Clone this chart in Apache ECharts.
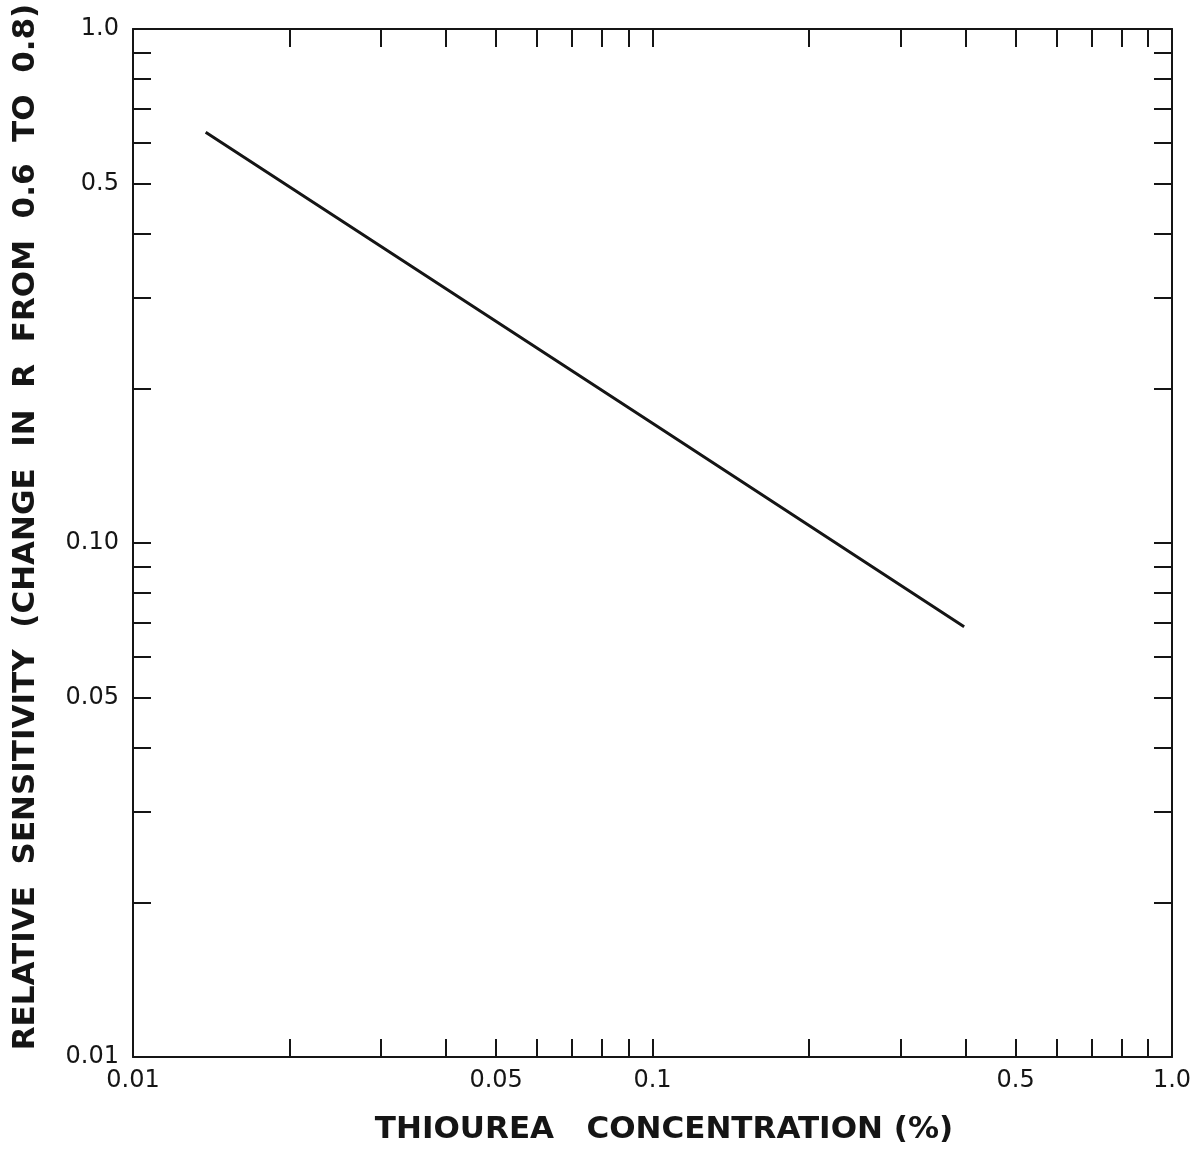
<!DOCTYPE html>
<html>
<head>
<meta charset="utf-8">
<script src="https://cdn.jsdelivr.net/npm/echarts@6/dist/echarts.min.js"></script>
<style>html,body{margin:0;padding:0;background:#fff}#c{width:1201px;height:1150px}</style>
</head>
<body>
<div id="c"></div>
<script>
// Data
var concentration = [0.0138, 0.1, 0.398];
var sensitivity = [0.63, 0.171, 0.0687];
var xTickValues = [0.01,0.02,0.03,0.04,0.05,0.06,0.07,0.08,0.09,0.1,0.2,0.3,0.4,0.5,0.6,0.7,0.8,0.9,1.0];
var yTickValues = [0.01,0.02,0.03,0.04,0.05,0.06,0.07,0.08,0.09,0.1,0.2,0.3,0.4,0.5,0.6,0.7,0.8,0.9,1.0];
var xLabelValues = [0.01,0.05,0.1,0.5,1.0];
var xLabelTexts = ['0.01','0.05','0.1','0.5','1.0'];
var yLabelValues = [0.01,0.05,0.1,0.5,1.0];
var yLabelTexts = ['0.01','0.05','0.10','0.5','1.0'];
var xTitle = 'THIOUREA   CONCENTRATION (%)';
var yTitle = 'RELATIVE  SENSITIVITY  (CHANGE  IN  R  FROM  0.6  TO  0.8)';

var ink = '#151515';
function labelFor(values, texts){
  return function(v){
    for (var i=0;i<values.length;i++){ if (Math.abs(Math.log10(v)-Math.log10(values[i]))<1e-6) return texts[i]; }
    return '';
  };
}
function mkAxis(dim, pos, showLabel, tickVals, labVals, labTexts){
  return {
    type:'log', logBase:10, min:0.01, max:1, position:pos,
    axisLine:{show:true, onZero:false, lineStyle:{color:ink, width:2}},
    axisTick:{show:true, inside:true, length:18, lineStyle:{color:ink, width:2}, customValues:tickVals},
    minorTick:{show:false},
    splitLine:{show:false},
    axisLabel:{show:showLabel, customValues:labVals, formatter:labelFor(labVals, labTexts),
      fontFamily:'DejaVu Sans', fontSize:24, color:ink, margin: dim==='x'?12:14}
  };
}
var chart = echarts.init(document.getElementById('c'), null, {renderer:'canvas'});
chart.setOption({
  animation:false,
  backgroundColor:'#fff',
  grid:{left:133, right:29, top:29, bottom:93},
  xAxis:[mkAxis('x','bottom',true,xTickValues,xLabelValues,xLabelTexts),
         mkAxis('x','top',false,xTickValues,xLabelValues,xLabelTexts)],
  yAxis:[mkAxis('y','left',true,yTickValues,yLabelValues,yLabelTexts),
         mkAxis('y','right',false,yTickValues,yLabelValues,yLabelTexts)],
  series:[{
    type:'line', xAxisIndex:0, yAxisIndex:0, showSymbol:false,
    data: concentration.map(function(x,i){return [x, sensitivity[i]];}),
    lineStyle:{color:ink, width:3}
  }],
  graphic:[
    {type:'text', x:664, y:1130, style:{text:xTitle, font:'bold 31px "DejaVu Sans"', fill:ink, textAlign:'center', textVerticalAlign:'middle'}},
    {type:'text', x:26, y:527, rotation:Math.PI/2, style:{text:yTitle, font:'bold 31px "DejaVu Sans"', fill:ink, textAlign:'center', textVerticalAlign:'middle'}}
  ]
});
</script>
</body>
</html>
